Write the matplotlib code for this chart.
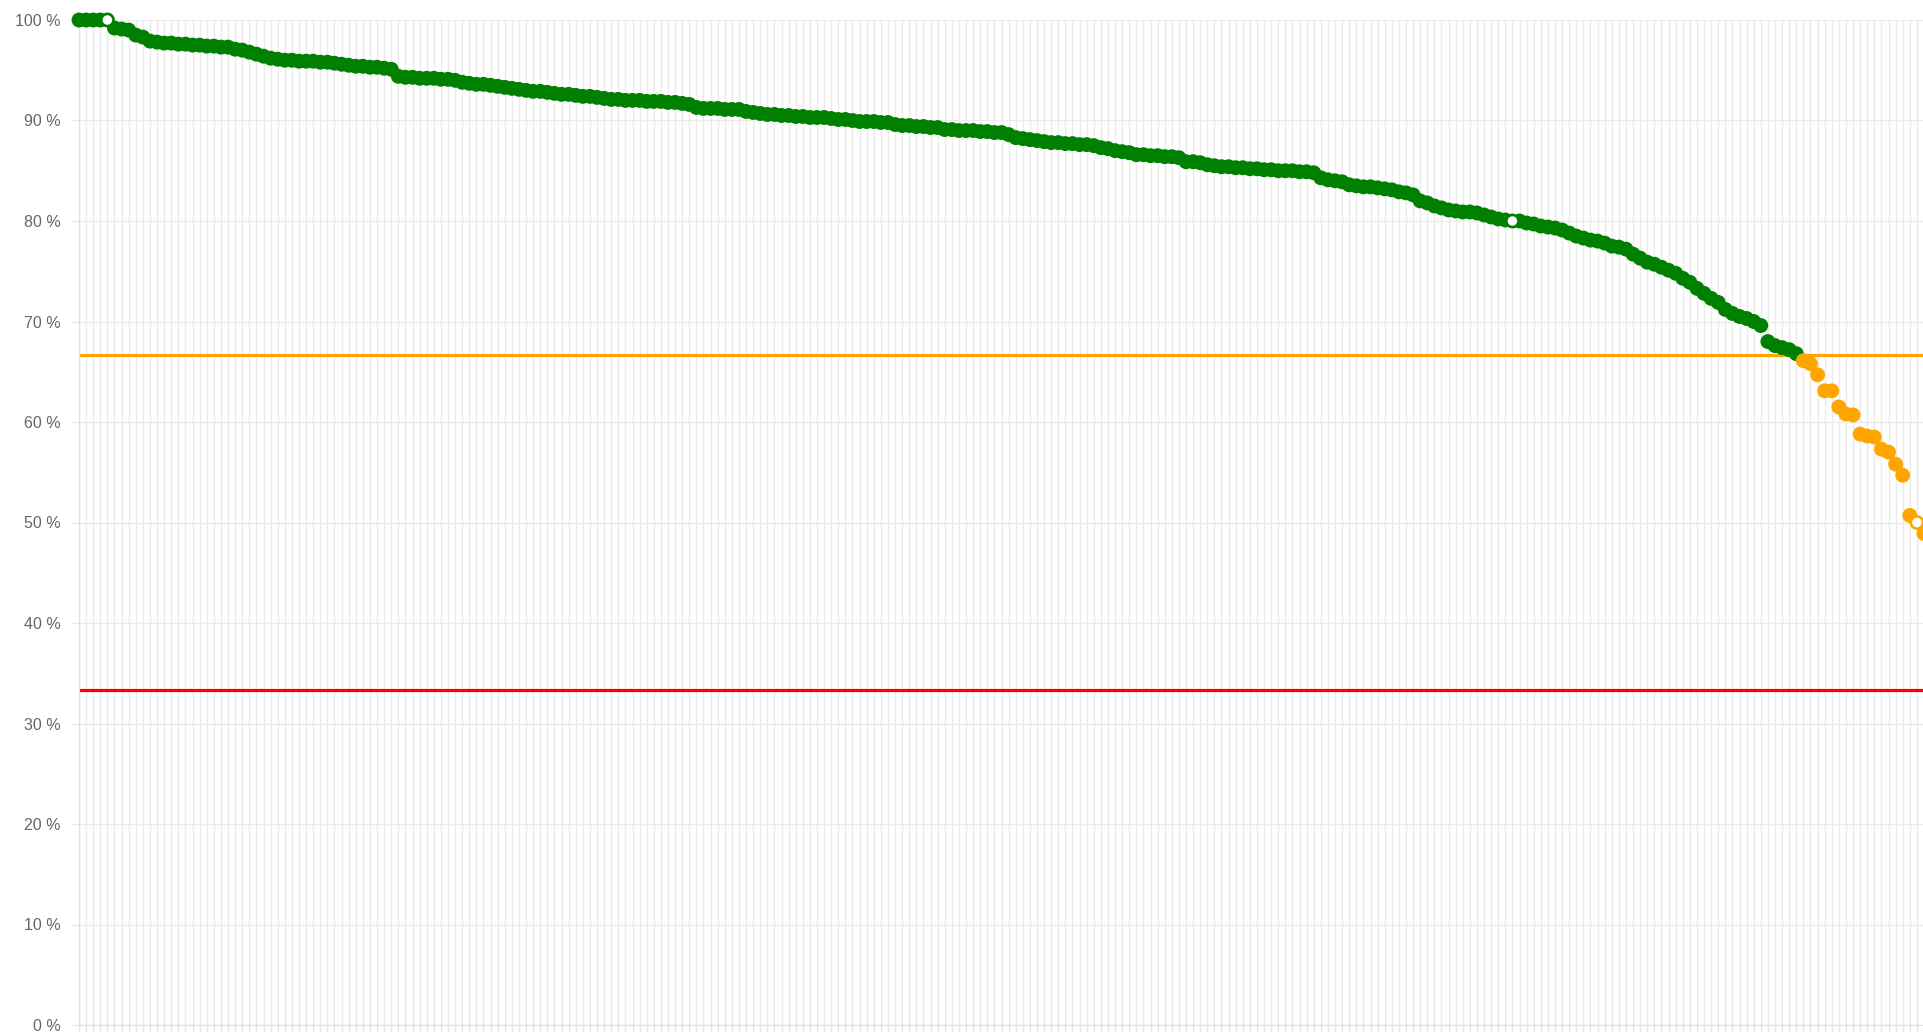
## Import Required Library
import matplotlib.pyplot as plt

# Score of every entry in %, sorted from best to worst
# (one value per category on the x axis)
scores = [
    100.0, 100.0, 100.0, 100.0, 100.0, 99.2, 99.1, 99.0, 98.5, 98.3,
    97.9, 97.8, 97.7, 97.7, 97.6, 97.6, 97.5, 97.5, 97.4, 97.4,
    97.3, 97.3, 97.1, 97.0, 96.8, 96.6, 96.4, 96.2, 96.1, 96.0,
    96.0, 95.9, 95.9, 95.9, 95.8, 95.8, 95.7, 95.6, 95.5, 95.4,
    95.4, 95.3, 95.3, 95.2, 95.1, 94.4, 94.3, 94.3, 94.2, 94.2,
    94.2, 94.1, 94.1, 94.0, 93.8, 93.7, 93.6, 93.6, 93.5, 93.4,
    93.3, 93.2, 93.1, 93.0, 92.9, 92.9, 92.8, 92.7, 92.6, 92.6,
    92.5, 92.4, 92.4, 92.3, 92.2, 92.1, 92.1, 92.0, 92.0, 92.0,
    91.9, 91.9, 91.9, 91.8, 91.8, 91.7, 91.6, 91.3, 91.2, 91.2,
    91.2, 91.1, 91.1, 91.1, 90.9, 90.8, 90.7, 90.6, 90.6, 90.5,
    90.5, 90.4, 90.4, 90.3, 90.3, 90.3, 90.2, 90.1, 90.1, 90.0,
    89.9, 89.9, 89.9, 89.8, 89.8, 89.6, 89.5, 89.5, 89.4, 89.4,
    89.3, 89.3, 89.1, 89.1, 89.0, 89.0, 89.0, 88.9, 88.9, 88.8,
    88.8, 88.6, 88.3, 88.2, 88.1, 88.0, 87.9, 87.8, 87.8, 87.7,
    87.7, 87.6, 87.6, 87.5, 87.3, 87.2, 87.0, 86.9, 86.8, 86.6,
    86.6, 86.5, 86.5, 86.4, 86.4, 86.3, 85.9, 85.9, 85.8, 85.6,
    85.5, 85.4, 85.4, 85.3, 85.3, 85.2, 85.2, 85.1, 85.1, 85.0,
    85.0, 85.0, 84.9, 84.9, 84.8, 84.3, 84.1, 84.0, 83.9, 83.6,
    83.5, 83.4, 83.4, 83.3, 83.2, 83.1, 82.9, 82.8, 82.6, 82.0,
    81.8, 81.5, 81.3, 81.1, 81.0, 80.9, 80.9, 80.8, 80.6, 80.4,
    80.2, 80.1, 80.0, 80.0, 79.8, 79.7, 79.5, 79.4, 79.3, 79.1,
    78.8, 78.5, 78.3, 78.1, 78.0, 77.8, 77.5, 77.4, 77.2, 76.7,
    76.3, 75.9, 75.7, 75.4, 75.1, 74.8, 74.3, 73.9, 73.3, 72.8,
    72.3, 71.9, 71.2, 70.8, 70.5, 70.3, 70.0, 69.6, 68.0, 67.6,
    67.4, 67.2, 66.8, 66.1, 65.8, 64.7, 63.1, 63.1, 61.5, 60.8,
    60.7, 58.8, 58.6, 58.5, 57.3, 57.0, 55.8, 54.7, 50.7, 50.0,
    48.9,
]

# Entries drawn as hollow (highlighted) points
highlighted = [4, 202, 259]

# Threshold lines
good_limit = 200 / 3     # 66.67 %
bad_limit = 100 / 3      # 33.33 %

# Y-axis ticks
y_ticks = [0, 10, 20, 30, 40, 50, 60, 70, 80, 90, 100]
y_labels = [f"{t} %" for t in y_ticks]

# Point colours: green above the upper limit, orange below it
colors = ["green" if s >= good_limit else "orange" for s in scores]

# Create Figure
fig = plt.figure(figsize=(19.24, 10.32), dpi=100)
ax = fig.add_axes([79 / 1924, 7 / 1032, 1 - 79 / 1924, (1025 - 20) / 1032])

x = list(range(len(scores)))

# Threshold lines
ax.axhline(good_limit, color="orange", linewidth=2.3, zorder=2)
ax.axhline(bad_limit, color="red", linewidth=2.3, zorder=2)

# Points
ax.scatter(x, scores, s=115, c=colors, linewidths=0, zorder=3, clip_on=False)
ax.scatter([x[i] for i in highlighted], [scores[i] for i in highlighted],
           s=65, facecolor="white", edgecolor=[colors[i] for i in highlighted],
           linewidths=1.2, zorder=4, clip_on=False)

# Axes range
ax.set_ylim(0, 100)
ax.set_xlim(0, (1924 - 79) / 7.1)

# Ticks and grid
ax.set_yticks(y_ticks)
ax.set_yticklabels(y_labels, fontfamily="Liberation Sans", fontsize=11.5, color="#666666")
ax.set_xticks(x)
ax.set_xticklabels([])
ax.tick_params(axis="both", length=6, width=1, color="#e6e6e6", pad=7)
ax.grid(True, color="#ebebeb", linewidth=1, zorder=0)
ax.set_axisbelow(True)

for side in ["top", "right"]:
    ax.spines[side].set_visible(False)
for side in ["left", "bottom"]:
    ax.spines[side].set_color("#e0e0e0")

# Save Chart
plt.savefig("out.png", dpi=100)
